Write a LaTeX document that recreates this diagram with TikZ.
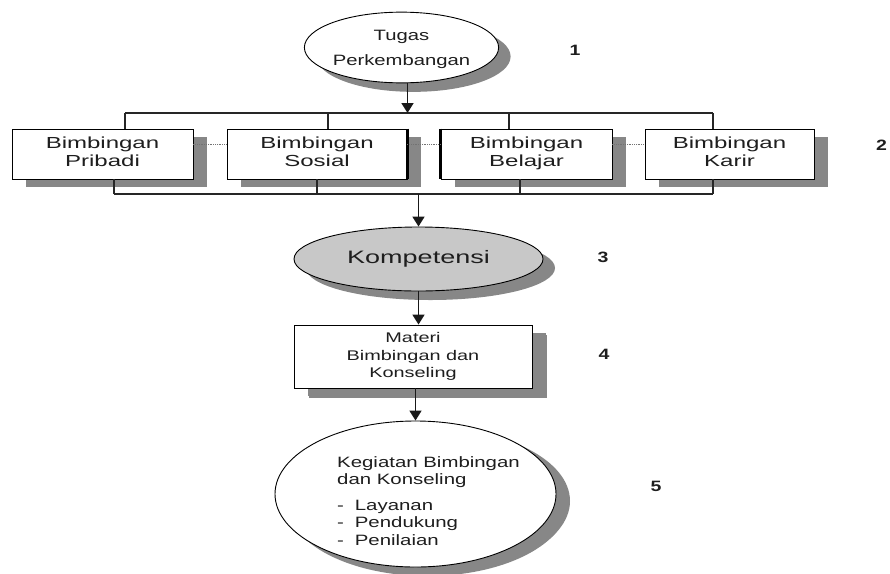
\documentclass[tikz,border=0pt]{standalone}
\usepackage{fontspec}
\setmainfont{Liberation Sans}
\usepackage{graphicx}
\usetikzlibrary{shapes.geometric,shadows,arrows.meta}
\definecolor{shgray}{RGB}{135,135,135}
\definecolor{kfill}{RGB}{200,200,200}
\definecolor{txtc}{RGB}{30,30,30}
\newcommand{\sx}[2]{\scalebox{#1}[1]{#2}}
\begin{document}
\begin{tikzpicture}[x=1pt,y=-1pt,
  box/.style={draw=black, line width=0.9pt, fill=white, rectangle, inner sep=0pt, text=txtc,
    drop shadow={shadow xshift=14pt, shadow yshift=-8pt, fill=shgray, opacity=1}},
  ell/.style={draw=black, line width=0.9pt, fill=white, ellipse, inner sep=0pt, text=txtc,
    drop shadow={shadow xshift=12pt, shadow yshift=-9pt, fill=shgray, opacity=1}},
  conn/.style={line width=1.1pt, draw=black!85},
  arrline/.style={line width=1.7pt, draw=black!90, -{Triangle[length=10pt,width=12pt]}},
  dotline/.style={densely dotted, draw=black!55, line width=0.8pt},
  thickedge/.style={line width=2.2pt, draw=black},
  num/.style={font=\bfseries\fontsize{15}{17}\selectfont, text=txtc, inner sep=0pt}
]
\useasboundingbox (0,0) rectangle (890,573);

% level 1
\node[ell, minimum width=193pt, minimum height=65pt] (t) at (401.5,47.5)
  {\sx{1.35}{\fontsize{15}{25}\selectfont\begin{tabular}{@{}c@{}}Tugas\\Perkembangan\end{tabular}}};
\node[num] (n1) at (575,50) {\sx{1.3}{1}};

% level 2 boxes
\node[box, minimum width=181pt, minimum height=50pt] (b1) at (102.5,154)
  {\sx{1.5}{\fontsize{16}{18}\selectfont\begin{tabular}{@{}c@{}}Bimbingan\\Pribadi\end{tabular}}};
\node[box, minimum width=180pt, minimum height=50pt] (b2) at (317,154)
  {\sx{1.5}{\fontsize{16}{18}\selectfont\begin{tabular}{@{}c@{}}Bimbingan\\Sosial\end{tabular}}};
\node[box, minimum width=171pt, minimum height=50pt] (b3) at (526.5,154)
  {\sx{1.5}{\fontsize{16}{18}\selectfont\begin{tabular}{@{}c@{}}Bimbingan\\Belajar\end{tabular}}};
\node[box, minimum width=169pt, minimum height=50pt] (b4) at (729.5,154)
  {\sx{1.5}{\fontsize{16}{18}\selectfont\begin{tabular}{@{}c@{}}Bimbingan\\Karir\end{tabular}}};
\node[num] (n2) at (881.5,145.5) {\sx{1.3}{2}};

\draw[thickedge] (b2.north east) -- (b2.south east);
\draw[thickedge] (b3.north west) -- (b3.south west);

\draw[dotline] ([yshift=10pt]b1.east) -- ([yshift=10pt]b2.west);
\draw[dotline] ([yshift=10pt]b2.east) -- ([yshift=10pt]b3.west);
\draw[dotline] ([yshift=10pt]b3.east) -- ([yshift=10pt]b4.west);

% buses
\coordinate (tbL) at (125,113);
\coordinate (d2) at (328,113);
\coordinate (d3) at (509,113);
\coordinate (tbR) at (713,113);
\coordinate (bbL) at (114,194);
\coordinate (u2) at (317,194);
\coordinate (u3) at (520,194);
\coordinate (bbR) at (713,194);

\draw[conn] (tbL) -- (tbR);
\draw[conn] (tbL) -- (tbL |- b1.north);
\draw[conn] (d2) -- (d2 |- b2.north);
\draw[conn] (d3) -- (d3 |- b3.north);
\draw[conn] (tbR) -- (tbR |- b4.north);
\draw[conn] (bbL) -- (bbR);
\draw[conn] (bbL) -- (bbL |- b1.south);
\draw[conn] (u2) -- (u2 |- b2.south);
\draw[conn] (u3) -- (u3 |- b3.south);
\draw[conn] (bbR) -- (bbR |- b4.south);

\draw[arrline] ([xshift=6pt]t.south) -- ([xshift=6pt]t.south |- tbL);

% level 3
\node[ell, fill=kfill, minimum width=249pt, minimum height=64pt] (k) at (418.5,259)
  {\sx{1.5}{\fontsize{18}{20}\selectfont Kompetensi}};
\node[num] (n3) at (603,257.5) {\sx{1.3}{3}};
\draw[arrline] (k.north |- bbL) -- (k.north);

% level 4
\node[box, minimum width=238pt, minimum height=63pt,
  drop shadow={shadow xshift=15pt, shadow yshift=-10pt, fill=shgray, opacity=1}] (m) at (413,356.5)
  {\sx{1.42}{\fontsize{14}{17.5}\selectfont\begin{tabular}{@{}c@{}}Materi\\Bimbingan dan\\Konseling\end{tabular}}};
\node[num] (n4) at (604,354.5) {\sx{1.3}{4}};
\draw[arrline] (k.south) -- (k.south |- m.north);

% level 5
\node[ell, minimum width=281pt, minimum height=146pt,
  drop shadow={shadow xshift=14pt, shadow yshift=-7pt, fill=shgray, opacity=1}] (e) at (415.5,494) {};
\node[inner sep=0pt, anchor=north west, text=txtc] (etxt) at (337,454.75)
  {\sx{1.36}{\fontsize{15}{17.5}\selectfont\begin{tabular}{@{}l@{}}Kegiatan Bimbingan\\dan Konseling\\[8pt]-\hspace{8pt}Layanan\\-\hspace{8pt}Pendukung\\-\hspace{8pt}Penilaian\end{tabular}}};
\node[num] (n5) at (656,486.5) {\sx{1.3}{5}};
\draw[arrline] (e.north |- m.south) -- (e.north);
\end{tikzpicture}
\end{document}
